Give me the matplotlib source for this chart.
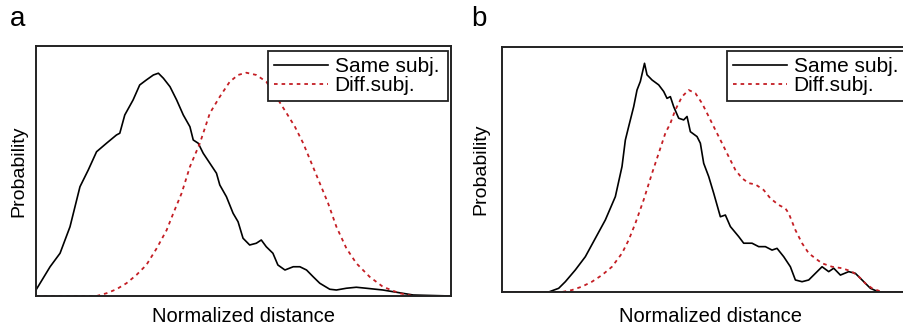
import matplotlib.pyplot as plt

plt.rcParams['font.family'] = ['Liberation Sans', 'DejaVu Sans']

# Panel a : distance normalisée (0-100) et probabilité (unités arbitraires)
same_a_x = [0, 3.4, 5.8, 8.2, 10.6, 12.6, 14.6, 17.0, 19.4, 20.2, 21.4, 23.4, 25.0, 26.6,
            28.3, 29.5, 30.7, 32.3, 33.9, 35.5, 37.1, 37.9, 39.1, 40.3, 41.9, 43.5, 44.3,
            45.9, 47.5, 48.7, 49.9, 51.5, 53.1, 54.3, 55.5, 57.1, 58.3, 60.0, 62.0, 63.6,
            65.2, 66.8, 68.4, 70.8, 72.4, 74.8, 77.2, 79.6, 83.6, 87.6, 90.9, 100]
same_a_y = [2.4, 11.7, 17.1, 27.7, 43.7, 50.4, 57.7, 61.1, 64.4, 65.1, 72.4, 78.4, 84.4, 86.4,
            88.4, 89.1, 87.1, 83.7, 78.4, 72.4, 67.7, 62.4, 61.1, 57.1, 53.1, 49.1, 44.4,
            39.7, 33.1, 29.7, 23.1, 20.4, 21.1, 22.4, 19.7, 17.1, 12.4, 10.4, 11.7, 11.7,
            10.4, 7.7, 5.1, 2.7, 2.4, 3.1, 3.5, 3.1, 2.4, 1.3, 0.4, 0]
diff_a_x = [0, 14.6, 17.0, 19.4, 21.8, 24.2, 26.6, 29.1, 31.5, 33.1, 35.1, 37.1, 39.5, 41.9,
            44.3, 46.7, 48.7, 50.7, 53.1, 55.5, 57.9, 60.4, 62.4, 64.4, 66.4, 68.4, 70.4,
            72.4, 74.8, 77.2, 80.4, 83.6, 87.6, 90.9, 100]
diff_a_y = [0, 0, 1.1, 2.7, 5.1, 8.4, 12.4, 19.1, 26.4, 33.1, 41.1, 51.7, 61.1, 73.1,
            79.7, 85.7, 88.4, 89.3, 88.4, 85.7, 79.7, 73.1, 67.7, 61.1, 53.1, 45.1, 37.1,
            27.7, 19.1, 13.1, 7.7, 3.7, 1.1, 0, 0]

# Panel b
same_b_x = [0, 11.2, 13.6, 15.2, 17.6, 20.0, 22.4, 24.8, 27.2, 28.8, 29.6, 30.4, 31.6, 32.4,
            33.2, 34.2, 34.8, 36.0, 37.6, 38.8, 39.6, 40.4, 41.2, 42.4, 43.6, 44.4, 45.2,
            46.8, 47.6, 48.4, 49.6, 50.8, 52.4, 53.6, 54.8, 56.8, 58.0, 60.0, 61.6, 63.2,
            64.8, 66.0, 67.6, 69.2, 70.4, 72.0, 73.6, 75.2, 76.8, 78.4, 79.6, 81.2, 83.2,
            84.8, 86.4, 88.4, 90.4, 100]
same_b_y = [0, 0, 1.5, 4.2, 9.0, 14.4, 21.9, 29.4, 38.9, 51.2, 62.0, 67.5, 75.6, 82.4,
            85.9, 93.3, 88.6, 86.5, 84.5, 81.8, 79.0, 79.7, 75.6, 70.9, 70.2, 71.6, 65.4,
            63.4, 60.7, 52.5, 47.1, 40.3, 30.7, 31.4, 26.7, 22.6, 19.9, 19.9, 18.5, 18.5,
            17.1, 17.8, 14.4, 10.3, 4.9, 4.2, 4.9, 7.6, 10.3, 8.3, 9.7, 6.9, 8.3,
            7.6, 4.9, 1.5, 0, 0]
diff_b_x = [0, 14.4, 16.8, 19.2, 21.6, 24.0, 26.4, 28.8, 30.4, 32.0, 34.0, 36.0, 37.6, 39.2,
            40.4, 41.6, 43.2, 44.8, 46.4, 48.0, 49.6, 51.2, 52.8, 54.4, 56.0, 57.6, 59.2,
            60.8, 62.8, 64.4, 66.4, 68.0, 68.8, 70.4, 72.0, 73.6, 75.2, 76.8, 79.2, 81.6,
            84.0, 85.6, 87.2, 88.8, 91.2, 100]
diff_b_y = [0, 0, 0.8, 2.2, 4.2, 6.9, 10.3, 15.8, 21.2, 28.0, 37.6, 48.4, 56.6, 64.8,
            68.8, 74.3, 79.7, 82.4, 81.1, 77.0, 71.6, 66.1, 60.7, 55.2, 49.8, 46.4, 44.4,
            43.9, 41.6, 38.2, 35.5, 34.1, 32.1, 25.3, 19.9, 15.8, 13.7, 11.7, 10.3, 9.7,
            8.3, 6.3, 3.5, 1.5, 0, 0]

ROUGE = '#c41e24'

fig = plt.figure(figsize=(9.04, 3.29), dpi=100)
ax_a = fig.add_axes([0.0398, 0.1003, 0.459, 0.760])
ax_b = fig.add_axes([0.5553, 0.1125, 0.461, 0.745])

# (axe, données, lettre, x lettre, labelpad x, labelpad y, boîte légende)
panels = [(ax_a, same_a_x, same_a_y, diff_a_x, diff_a_y, 'a', 0.0105, 8, 6,
           (0.559, 0.78, 0.434, 0.20)),
          (ax_b, same_b_x, same_b_y, diff_b_x, diff_b_y, 'b', 0.5215, 11, 9,
           (0.540, 0.78, 0.434, 0.204))]

for ax, sx, sy, dx, dy, lettre, xl, padx, pady, boite in panels:
    ax.plot(sx, sy, color='black', lw=1.2, label='Same subj.')
    ax.plot(dx, dy, color=ROUGE, lw=1.3, ls=(0, (2, 2.2)), label='Diff.subj.')
    ax.set_xlim(0, 100)
    ax.set_ylim(0, 100)
    ax.set_xticks([])
    ax.set_yticks([])
    for s in ax.spines.values():
        s.set_linewidth(1.4)
        s.set_color('#222222')
    ax.set_xlabel('Normalized distance', fontsize=14.5, labelpad=padx)
    ax.set_ylabel('Probability', fontsize=14, labelpad=pady)
    leg = ax.legend(loc='upper left', bbox_to_anchor=boite, mode='expand', borderaxespad=0,
                    fontsize=15, frameon=True, fancybox=False, framealpha=1,
                    edgecolor='#222222', handlelength=2.6, handletextpad=0.3,
                    labelspacing=0.0, borderpad=0.3)
    leg.get_frame().set_linewidth(1.3)
    fig.text(xl, 0.92, lettre, fontsize=20, ha='left', va='baseline')

plt.savefig('out.png', dpi=100)
